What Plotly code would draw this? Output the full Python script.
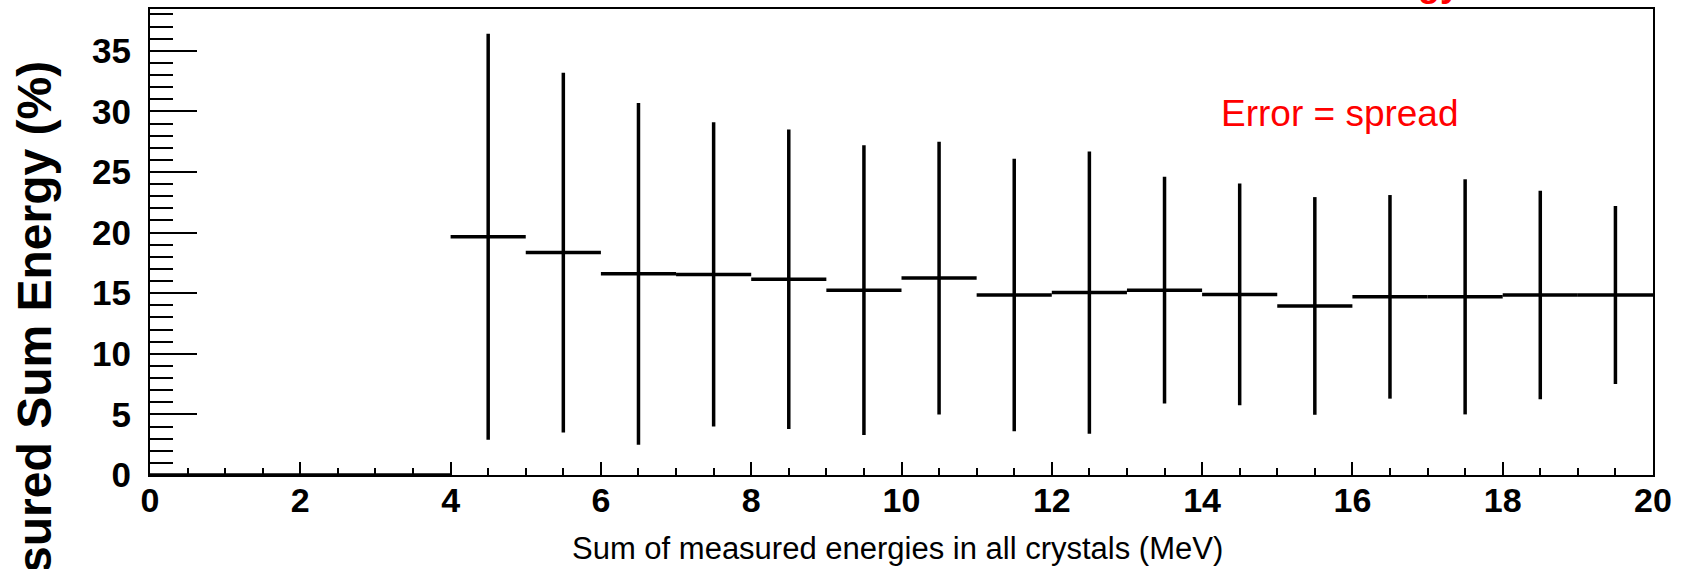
import plotly.graph_objects as go

# Data
bin_centers = [0.5, 1.5, 2.5, 3.5, 4.5, 5.5, 6.5, 7.5, 8.5, 9.5,
               10.5, 11.5, 12.5, 13.5, 14.5, 15.5, 16.5, 17.5, 18.5, 19.5]
bin_half_widths = [0.5] * 20
values = [0, 0, 0, 0, 19.65, 18.35, 16.6, 16.55, 16.15, 15.25,
          16.25, 14.85, 15.05, 15.25, 14.9, 13.95, 14.7, 14.7, 14.85, 14.85]
spreads = [0, 0, 0, 0, 16.75, 14.85, 14.1, 12.55, 12.35, 11.95,
           11.25, 11.25, 11.65, 9.35, 9.15, 8.98, 8.4, 9.7, 8.6, 7.35]

x_ticks = [0, 2, 4, 6, 8, 10, 12, 14, 16, 18, 20]
y_ticks = [0, 5, 10, 15, 20, 25, 30, 35]

W, H = 1682, 569
L, R, T, B = 150, 29, 7, 94
pw, ph = W - L - R, H - T - B
FONT = "Liberation Sans, Arial, Helvetica, sans-serif"


def px(xp):
    return (xp - L) / pw


def py(yp):
    return (H - B - yp) / ph


fig = go.Figure()
fig.add_trace(go.Scatter(
    x=bin_centers, y=values, mode="markers",
    marker=dict(size=1, color="black"),
    error_x=dict(type="data", array=bin_half_widths, visible=True,
                 width=0, thickness=3.5, color="black"),
    error_y=dict(type="data", array=spreads, visible=True,
                 width=0, thickness=3.5, color="black"),
    showlegend=False, hoverinfo="skip",
))

fig.update_layout(
    width=W, height=H,
    margin=dict(l=L, r=R, t=T, b=B, pad=0),
    paper_bgcolor="white", plot_bgcolor="white",
    xaxis=dict(
        range=[0, 20], tickvals=x_ticks,
        ticktext=["<b>%d</b>" % v for v in x_ticks],
        ticks="inside", ticklen=13, tickwidth=2, tickcolor="black",
        showline=True, linewidth=2, linecolor="black", mirror=True,
        showgrid=False, zeroline=False,
        tickfont=dict(family=FONT, size=34, color="black"),
        ticklabelstandoff=-6,
        minor=dict(dtick=0.5, ticks="inside", ticklen=7, tickwidth=2,
                   tickcolor="black", showgrid=False),
    ),
    yaxis=dict(
        range=[0, 38.45], tickvals=y_ticks,
        ticktext=["<b>%d</b>" % v for v in y_ticks],
        ticks="inside", ticklen=47, tickwidth=2, tickcolor="black",
        showline=True, linewidth=2, linecolor="black", mirror=True,
        showgrid=False, zeroline=False,
        tickfont=dict(family=FONT, size=35, color="black"),
        ticklabelstandoff=10,
        minor=dict(dtick=1, ticks="inside", ticklen=23, tickwidth=2,
                   tickcolor="black", showgrid=False),
    ),
    annotations=[
        dict(text="Sum of measured energies in all crystals (MeV)",
             xref="paper", yref="paper", x=px(897), y=py(549),
             xanchor="center", yanchor="middle", showarrow=False,
             font=dict(family=FONT, size=31, color="black")),
        dict(text="Error = spread", xref="paper", yref="paper",
             x=px(1340), y=py(112), xanchor="center", yanchor="middle",
             showarrow=False,
             font=dict(family=FONT, size=37, color="red")),
        dict(text="<b>Measured Sum Energy (%)</b>", xref="paper", yref="paper",
             x=px(34), y=py(58), xanchor="center", yanchor="top",
             textangle=-90, showarrow=False,
             font=dict(family=FONT, size=48, color="black")),
        dict(text="<b>Resolution of Measured Sum Energy</b>", xref="paper", yref="paper",
             x=px(1462), y=py(-19), xanchor="right", yanchor="middle",
             showarrow=False,
             font=dict(family=FONT, size=36, color="red")),
    ],
)

fig.write_html("out.html")
